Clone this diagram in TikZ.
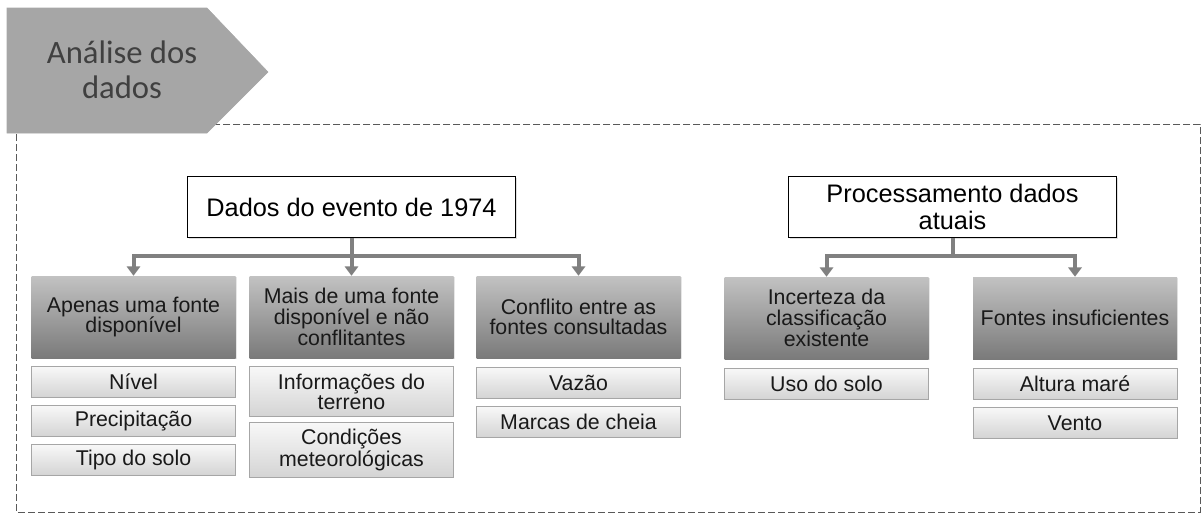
\documentclass[tikz,border=0pt]{standalone}
\usepackage{fontspec}
\setmainfont{Liberation Sans}
\newfontfamily\tabfont{Carlito}
\usepackage{tikz}
\usetikzlibrary{arrows.meta,shadows}

\definecolor{tabgray}{HTML}{A6A6A6}
\definecolor{tabtext}{HTML}{404040}
\definecolor{linegray}{HTML}{808080}
\definecolor{framegray}{HTML}{595959}
\definecolor{grouptop}{HTML}{C2C2C2}
\definecolor{groupbot}{HTML}{7A7A7A}
\definecolor{itemtop}{HTML}{F8F8F8}
\definecolor{itembot}{HTML}{D4D4D4}
\definecolor{itemline}{HTML}{A6A6A6}

\tikzset{
	topbox/.style={draw=black, line width=0.9pt, fill=white, minimum width=246pt, minimum height=46pt,
		align=center, font=\fontsize{19}{20.5}\selectfont,
		drop shadow={opacity=0.25, shadow xshift=1pt, shadow yshift=-1pt}},
	groupbox/.style={top color=grouptop, bottom color=groupbot, minimum width=153pt, minimum height=61.5pt,
		align=center, font=\fontsize{16}{15.5}\selectfont, text=black!90,
		drop shadow={opacity=0.2, shadow xshift=1pt, shadow yshift=-1pt}},
	itembox/.style={draw=itemline, line width=0.7pt, top color=itemtop, bottom color=itembot,
		minimum width=153pt, minimum height=23pt, inner sep=2.5pt, anchor=north,
		align=center, font=\fontsize{16}{15}\selectfont, text=black!90},
	conn/.style={draw=linegray, line width=3pt, -{Triangle[width=10pt,length=7pt]}},
	trunk/.style={draw=linegray, line width=3pt}
}

\begin{document}
\begin{tikzpicture}[x=0.75pt,y=-0.75pt]
	\useasboundingbox (0,0) rectangle (1202,515);

	% frame and tab
	\draw[framegray, line width=0.75pt, dash pattern=on 5pt off 2.5pt] (16,124) rectangle (1200,512);
	\filldraw[tabgray] (7,8) -- (207,8) -- (268,72) -- (207,133) -- (7,133) -- cycle;
	\node[font=\tabfont\fontsize{24.5}{26}\selectfont, text=tabtext, align=center] (tab) at (122,70) {Análise dos\\dados};

	% 1974 event
	\node[topbox] (ev1974) at (351.5,207) {Dados do evento de 1974};
	\node[groupbox] (evA) at (133.5,317) {Apenas uma fonte\\disponível};
	\node[groupbox] (evB) at (351.5,317) {Mais de uma fonte\\disponível e não\\conflitantes};
	\node[groupbox] (evC) at (578.5,317) {Conflito entre as\\fontes consultadas};

	\node[itembox] (nivel) at (133.5,366) {Nível};
	\node[itembox] (precip) at (133.5,405) {Precipitação};
	\node[itembox] (solo) at (133.5,444) {Tipo do solo};
	\node[itembox, minimum height=37.5pt] (terreno) at (351.5,366) {Informações do\\terreno};
	\node[itembox, minimum height=41pt] (meteo) at (351.5,422) {Condições\\meteorológicas};
	\node[itembox] (vazao) at (578.5,367) {Vazão};
	\node[itembox] (cheia) at (578.5,406) {Marcas de cheia};

	\coordinate (jEv) at (351.5,256);
	\draw[conn] (ev1974.south) -- (evB.north);
	\draw[conn] (jEv) -| (evA.north);
	\draw[conn] (jEv) -| (evC.north);

	% current data
	\node[topbox] (atual) at (952.5,207) {Processamento dados\\atuais};
	\node[groupbox] (atA) at (826.5,318) {Incerteza da\\classificação\\existente};
	\node[groupbox] (atB) at (1075,318) {Fontes insuficientes};

	\node[itembox] (usosolo) at (826.5,368) {Uso do solo};
	\node[itembox] (mare) at (1075,368) {Altura maré};
	\node[itembox] (vento) at (1075,407) {Vento};

	\coordinate (jAt) at (952.5,256);
	\draw[trunk] (atual.south) -- (jAt);
	\draw[conn] (jAt) -| (atA.north);
	\draw[conn] (jAt) -| (atB.north);
\end{tikzpicture}
\end{document}
